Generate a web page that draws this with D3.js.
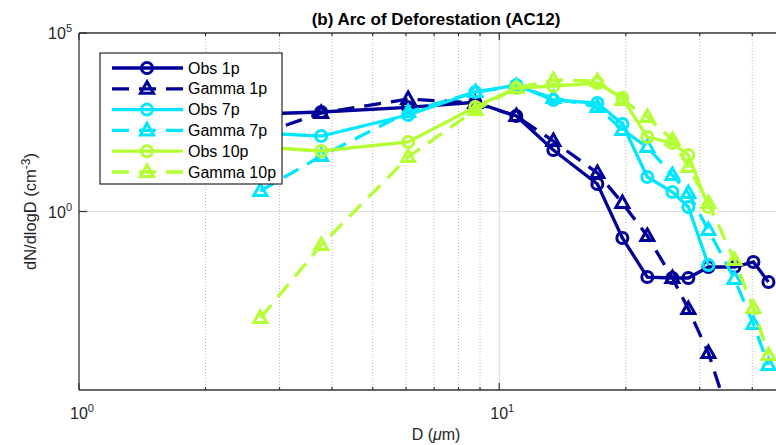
<!DOCTYPE html>
<html>
<head>
<meta charset="utf-8">
<script src="https://cdn.jsdelivr.net/npm/d3@7"></script>
<style>
  body { margin: 0; background: #fff; }
  text { font-family: "Liberation Sans", Arial, sans-serif; fill: #262626; }
</style>
</head>
<body>
<svg id="chart" width="776" height="445"></svg>
<script>
// bin centres, D (um)
const diam = [2.70, 3.77, 6.07, 8.77, 10.98, 13.45, 17.12, 19.63, 22.51, 25.82, 28.18, 31.45, 36.27, 40.25, 43.7];

// dN/dlogD (cm^-3)
const obs1p   = [538, 612, 830, 1150, 473, 52.8, 5.9, 0.181, 0.0146, 0.0137, 0.0137, 0.0279, 0.0279, 0.0385, 0.0106];
const gamma1p = [148, 574, 1416, 1094, 473, 94, 12, 1.73, 0.206, 0.0137, 0.00186, 1.09e-4, 6.25e-7];
const obs7p   = [158, 130, 505, 2225, 3494, 1328, 1094, 282, 9.25, 3.52, 1.34, 0.0317];
const gamma7p = [3.75, 35.9, 612, 2225, 3275, 1511, 846, 192, 64, 10.5, 3.30, 0.303, 0.0129, 7.06e-4, 5.0e-5];
const obs10p  = [64, 49.5, 88.5, 846, 2878, 3275, 3975, 1511, 122, 83, 38.3, 1.34];
const gamma10p = [1.04e-3, 0.115, 33.6, 697, 2878, 4825, 4523, 1328, 444, 101, 17.6, 1.73, 0.0438, 1.98e-3, 9.55e-5];

const seriesNames = ["Obs 1p", "Gamma 1p", "Obs 7p", "Gamma 7p", "Obs 10p", "Gamma 10p"];
const seriesValues = [obs1p, gamma1p, obs7p, gamma7p, obs10p, gamma10p];

const xMinor = [2, 3, 4, 5, 6, 7, 8, 9, 20, 30, 40];
const xMajor = [1, 10];
const yMajor = [1, 1e5];

const colors = ["#000099", "#000099", "#00e6ff", "#00e6ff", "#b3ff33", "#b3ff33"];
const marker = ["circle", "triangle", "circle", "triangle", "circle", "triangle"];
const dashed = [false, true, false, true, false, true];

const svg = d3.select("#chart");
const pLeft = 79, pRight = 793, pTop = 33, pBottom = 390;

const x = d3.scaleLog().domain([1, 50]).range([pLeft, pRight]);
const y = d3.scaleLog().domain([1e-5, 1e5]).range([pBottom, pTop]);

svg.append("defs").append("clipPath").attr("id", "plotClip")
  .append("rect").attr("x", pLeft).attr("y", pTop)
  .attr("width", pRight - pLeft).attr("height", pBottom - pTop);

// grid
const grid = svg.append("g");
grid.selectAll(".minor").data(xMinor).join("line")
  .attr("x1", d => x(d)).attr("x2", d => x(d))
  .attr("y1", pTop).attr("y2", pBottom)
  .attr("stroke", "#b8b8b8").attr("stroke-width", 1)
  .attr("stroke-dasharray", "1,2");
grid.append("line")
  .attr("x1", x(10)).attr("x2", x(10)).attr("y1", pTop).attr("y2", pBottom)
  .attr("stroke", "#dedede").attr("stroke-width", 1.2);
grid.append("line")
  .attr("x1", pLeft).attr("x2", pRight).attr("y1", y(1)).attr("y2", y(1))
  .attr("stroke", "#dedede").attr("stroke-width", 1.2);

// axes box + ticks
const axisColor = "#333";
const ax = svg.append("g").attr("stroke", axisColor);
ax.append("line").attr("x1", pLeft).attr("x2", pRight).attr("y1", pBottom).attr("y2", pBottom).attr("stroke-width", 1.3);
ax.append("line").attr("x1", pLeft).attr("x2", pRight).attr("y1", pTop).attr("y2", pTop).attr("stroke-width", 1.3);
ax.append("line").attr("x1", pLeft).attr("x2", pLeft).attr("y1", pTop).attr("y2", pBottom).attr("stroke-width", 1.3);
ax.append("line").attr("x1", pRight).attr("x2", pRight).attr("y1", pTop).attr("y2", pBottom).attr("stroke-width", 1.3);

xMinor.forEach(d => {
  ax.append("line").attr("x1", x(d)).attr("x2", x(d)).attr("y1", pBottom).attr("y2", pBottom - 3).attr("stroke-width", 1.2);
  ax.append("line").attr("x1", x(d)).attr("x2", x(d)).attr("y1", pTop).attr("y2", pTop + 3).attr("stroke-width", 1.2);
});
xMajor.forEach(d => {
  ax.append("line").attr("x1", x(d)).attr("x2", x(d)).attr("y1", pBottom).attr("y2", pBottom - 7).attr("stroke-width", 1.2);
  ax.append("line").attr("x1", x(d)).attr("x2", x(d)).attr("y1", pTop).attr("y2", pTop + 7).attr("stroke-width", 1.2);
});
yMajor.forEach(d => {
  ax.append("line").attr("x1", pLeft).attr("x2", pLeft + 8).attr("y1", y(d)).attr("y2", y(d)).attr("stroke-width", 1.2);
});

// tick labels (10^n)
function powLabel(g, px, py, exp, anchor) {
  const t = g.append("text").attr("x", px).attr("y", py)
    .attr("text-anchor", anchor).style("font-size", "16px");
  t.append("tspan").text("10");
  t.append("tspan").attr("dy", -7).style("font-size", "11px").text(exp);
  return t;
}
xMajor.forEach(d => powLabel(svg, x(d) + 3, 419, Math.round(Math.log10(d)), "middle"));
yMajor.forEach(d => powLabel(svg, pLeft - 7, y(d) + 6, Math.round(Math.log10(d)), "end"));

// title and axis labels
svg.append("text").attr("x", 436).attr("y", 25).attr("text-anchor", "middle")
  .style("font-size", "17px").style("font-weight", "bold").style("fill", "#000")
  .text("(b) Arc of Deforestation (AC12)");

svg.append("text").attr("x", 436).attr("y", 440).attr("text-anchor", "middle")
  .style("font-size", "16px")
  .html('D (<tspan style="font-style:italic">\u03bc</tspan>m)');

const yl = svg.append("text")
  .attr("transform", `translate(36,${(pTop + pBottom) / 2}) rotate(-90)`)
  .attr("text-anchor", "middle").style("font-size", "16.5px");
yl.append("tspan").text("dN/dlogD (cm");
yl.append("tspan").attr("dy", -6).style("font-size", "12px").text("-3");
yl.append("tspan").attr("dy", 6).text(")");

// markers
const triPath = "M0,-7L6.5,4.5L-6.5,4.5Z";
function drawMarker(g, kind, cx, cy, color) {
  if (kind === "circle") {
    g.append("circle").attr("cx", cx).attr("cy", cy).attr("r", 5.5)
      .attr("fill", "none").attr("stroke", color).attr("stroke-width", 3);
  } else {
    g.append("path").attr("d", triPath).attr("transform", `translate(${cx},${cy})`)
      .attr("fill", "none").attr("stroke", color).attr("stroke-width", 3)
      .attr("stroke-linejoin", "miter");
  }
}

// series
const plot = svg.append("g").attr("clip-path", "url(#plotClip)");
const line = d3.line().x(d => x(d[0])).y(d => y(d[1]));

seriesValues.forEach((vals, i) => {
  const pts = vals.map((v, j) => [diam[j], v]);
  const g = plot.append("g");
  g.append("path").attr("d", line(pts))
    .attr("fill", "none").attr("stroke", colors[i]).attr("stroke-width", 3.3)
    .attr("stroke-dasharray", dashed[i] ? "17,10" : null);
  pts.forEach(p => drawMarker(g, marker[i], x(p[0]), y(p[1]), colors[i]));
});

// legend
const lg = svg.append("g");
lg.append("rect").attr("x", 100).attr("y", 53).attr("width", 182).attr("height", 131)
  .attr("fill", "#fff").attr("stroke", "#262626").attr("stroke-width", 1.2);
seriesNames.forEach((name, i) => {
  const ly = 68 + i * 20.8;
  lg.append("line").attr("x1", 112).attr("x2", 183).attr("y1", ly).attr("y2", ly)
    .attr("stroke", colors[i]).attr("stroke-width", 3.3)
    .attr("stroke-dasharray", dashed[i] ? "17,10" : null);
  drawMarker(lg, marker[i], 147, ly, colors[i]);
  lg.append("text").attr("x", 188).attr("y", ly + 5.5).style("font-size", "16px")
    .style("fill", "#000").text(name);
});
</script>
</body>
</html>
